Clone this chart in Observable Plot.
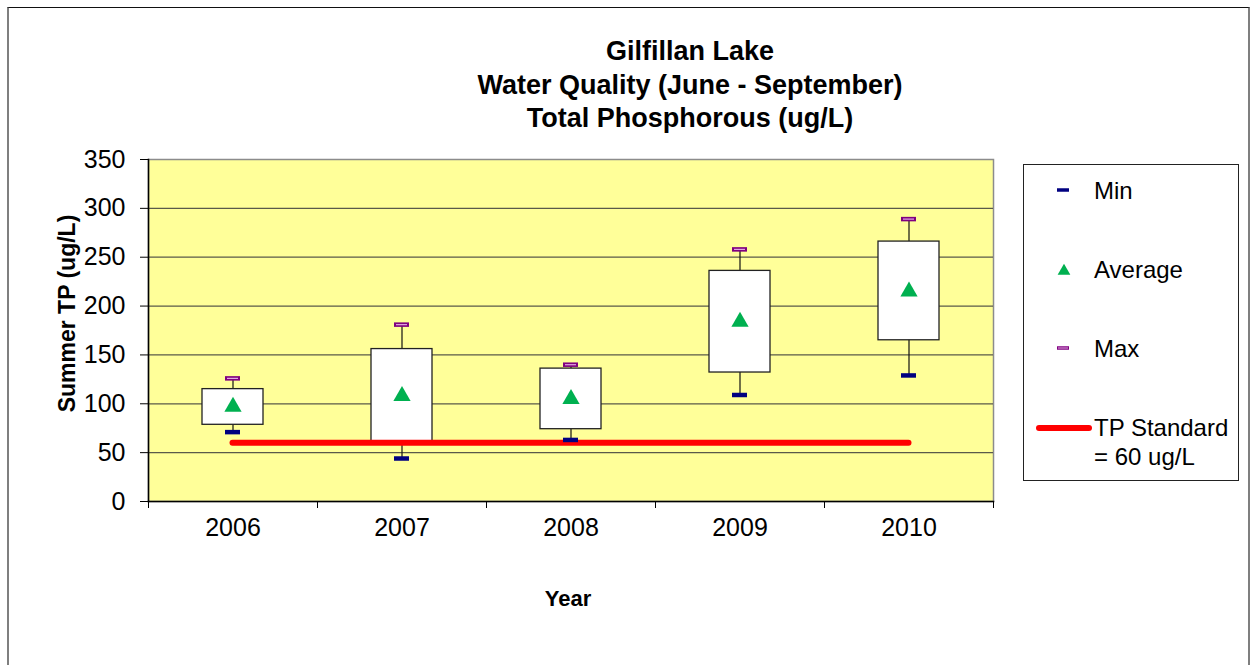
<!DOCTYPE html>
<html>
<head>
<meta charset="utf-8">
<script src="https://cdn.jsdelivr.net/npm/d3@7"></script>
<script src="https://cdn.jsdelivr.net/npm/@observablehq/plot@0.6"></script>
<style>
  html, body { margin: 0; padding: 0; background: #fff; }
  body { width: 1252px; height: 665px; overflow: hidden; position: relative; font-family: "Liberation Sans", Arial, sans-serif; }
  #border { position: absolute; left: 7px; top: 7px; width: 1243px; height: 700px; border-top: 1px solid #111; border-left: 2px solid #7f7f7f; border-right: 2px solid #7f7f7f; box-sizing: border-box; pointer-events: none; }
  #title { box-sizing: border-box; height: 136px; padding-top: 35px; padding-left: 128px; width: 1252px; text-align: center; font-weight: bold; font-size: 27px; line-height: 33.5px; color: #000; }
  #legend { position: absolute; left: 1023px; top: 164px; width: 216px; height: 317px; border: 1px solid #222; background: #fff; box-sizing: border-box; }
</style>
</head>
<body>
<div id="border"></div>
<div id="title">Gilfillan Lake<br>Water Quality (June - September)<br>Total Phosphorous (ug/L)</div>
<div id="chart"></div>
<div id="legend"></div>
<script>
// ---- data ----
const years    = [2006, 2007, 2008, 2009, 2010];
const minTP    = [71, 44, 63, 109, 129];
const maxTP    = [126, 181, 140, 258, 289];
const boxLow   = [78.5, 61, 74, 132, 165];
const boxHigh  = [115, 156, 136, 236, 266];
const avgTP    = [97, 108, 105, 184, 215];
const standardTP = 60;
const yTicks   = [0, 50, 100, 150, 200, 250, 300, 350];
const legendLabels = ["Min", "Average", "Max", "TP Standard", "= 60 ug/L"];
const yLabel = "Summer TP (ug/L)";
const xLabel = "Year";

const rows = years.map((y, i) => ({year: y, min: minTP[i], max: maxTP[i], lo: boxLow[i], hi: boxHigh[i], avg: avgTP[i]}));
const boundaries = years.map(y => y - 0.5).concat([years[years.length - 1] + 0.5]);

const chart = Plot.plot({
  width: 1252,
  height: 529,
  marginLeft: 148,
  marginRight: 259,
  marginTop: 23,
  marginBottom: 164,
  style: {fontFamily: '"Liberation Sans", Arial, sans-serif', fontSize: "25px", color: "#000", background: "transparent", overflow: "visible"},
  x: {type: "linear", domain: [boundaries[0], boundaries[boundaries.length - 1]]},
  y: {domain: [0, 350]},
  marks: [
    Plot.frame({fill: "#FFFF99", stroke: "#8c8c8c", strokeWidth: 1.5}),
    Plot.gridY(yTicks.filter(t => t > 0 && t < 350), {stroke: "#5a5a4a", strokeOpacity: 1, strokeWidth: 1.2}),
    Plot.frame({anchor: "left", stroke: "#000", strokeWidth: 1.5}),
    Plot.frame({anchor: "bottom", stroke: "#000", strokeWidth: 1.5}),
    Plot.axisY({ticks: yTicks, tickSize: 8, tickPadding: 15, label: null, fontSize: 25, stroke: "#000"}),
    Plot.axisX({ticks: boundaries, tickSize: 7, tickFormat: () => "", label: null, stroke: "#000"}),
    Plot.axisX({ticks: years, tickSize: 0, tickPadding: 17, tickFormat: d => String(d), label: null, fontSize: 25}),
    Plot.text([yLabel], {frameAnchor: "left", textAnchor: "middle", lineAnchor: "middle", dx: -81, dy: -17, rotate: -90, fontWeight: "bold", fontSize: 23, fill: "#000"}),
    Plot.text([xLabel], {frameAnchor: "bottom", lineAnchor: "middle", dx: -3, dy: 97, fontWeight: "bold", fontSize: 22, fill: "#000"}),
    // whiskers
    Plot.ruleX(rows, {x: "year", y1: "min", y2: "max", stroke: "#111", strokeWidth: 1.2}),
    // boxes
    Plot.rect(rows, {x1: "year", x2: "year", y1: "lo", y2: "hi", insetLeft: -30.5, insetRight: -30.5, fill: "#fff", stroke: "#222", strokeWidth: 1.3}),
    // TP standard line
    Plot.ruleY([standardTP], {x1: years[0], x2: years[years.length - 1], stroke: "#FF0000", strokeWidth: 6, strokeLinecap: "round"}),
    // min markers
    Plot.ruleY(rows, {y: "min", x1: "year", x2: "year", insetLeft: -7.5, insetRight: -7.5, stroke: "#000080", strokeWidth: 4.5}),
    // max markers
    Plot.ruleY(rows, {y: "max", x1: "year", x2: "year", insetLeft: -7.5, insetRight: -7.5, stroke: "#800080", strokeWidth: 4.5}),
    Plot.ruleY(rows, {y: "max", x1: "year", x2: "year", insetLeft: -5.5, insetRight: -5.5, stroke: "#E0A8E0", strokeWidth: 1.2}),
    // averages
    Plot.dot(rows, {x: "year", y: "avg", symbol: "triangle", r: 6.4, fill: "#00B050", stroke: "none"})
  ]
});
document.getElementById("chart").appendChild(chart);

// ---- legend ----
const lg = d3.select("#legend").append("svg").attr("width", 214).attr("height", 315)
  .style("font-family", '"Liberation Sans", Arial, sans-serif').style("font-size", "24px");
lg.append("line").attr("x1", 33).attr("x2", 45).attr("y1", 25).attr("y2", 25).attr("stroke", "#000080").attr("stroke-width", 3.5);
lg.append("path").attr("d", d3.symbol(d3.symbolTriangle, 70)()).attr("transform", "translate(40,106)").attr("fill", "#00B050");
lg.append("line").attr("x1", 33).attr("x2", 45).attr("y1", 183).attr("y2", 183).attr("stroke", "#800080").attr("stroke-width", 3.5);
lg.append("line").attr("x1", 34).attr("x2", 44).attr("y1", 183).attr("y2", 183).attr("stroke", "#E0A8E0").attr("stroke-width", 1);
lg.append("line").attr("x1", 15).attr("x2", 65).attr("y1", 263).attr("y2", 263).attr("stroke", "#FF0000").attr("stroke-width", 6).attr("stroke-linecap", "round");
const ly = [26, 105, 184, 263, 292];
legendLabels.forEach((t, i) => {
  lg.append("text").attr("x", 70).attr("y", ly[i]).attr("dy", "0.35em").attr("fill", "#000").text(t);
});
</script>
</body>
</html>
